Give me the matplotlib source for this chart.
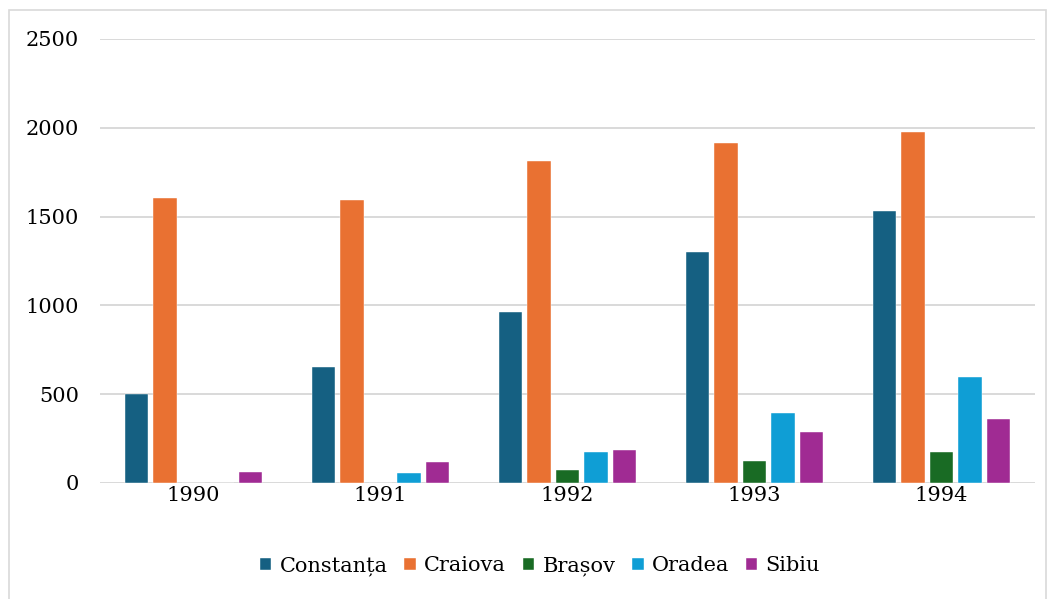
import matplotlib
matplotlib.use("Agg")
import matplotlib.pyplot as plt
import numpy as np
from matplotlib.patches import Rectangle

years = ["1990", "1991", "1992", "1993", "1994"]
series_names = ["Constanța", "Craiova", "Brașov", "Oradea", "Sibiu"]
constanta = [500, 655, 965, 1302, 1529]
craiova = [1603, 1595, 1811, 1913, 1977]
brasov = [0, 0, 75, 126, 177]
oradea = [0, 56, 173, 395, 596]
sibiu = [62, 118, 184, 288, 361]
colors = ["#156082", "#E97132", "#196B24", "#0F9ED5", "#A02B93"]
yticks = [0, 500, 1000, 1500, 2000, 2500]

plt.rcParams['font.family'] = ['DejaVu Serif']

fig = plt.figure(figsize=(10.54, 5.99), dpi=100)
ax = fig.add_axes([100/1054, 1-483/599, 935/1054, (483-39)/599])

data = [constanta, craiova, brasov, oradea, sibiu]
x = np.arange(len(years))
step = 0.153
width = 0.125
for i, (name, vals, c) in enumerate(zip(series_names, data, colors)):
    ax.bar(x + (i - 2) * step, vals, width=width, color=c, label=name,
           edgecolor="white", linewidth=0.3, zorder=3)

ax.set_xlim(-0.5, len(years) - 0.5)
ax.set_ylim(0, 2500)
ax.set_yticks(yticks)
ax.set_yticklabels([str(v) for v in yticks])
ax.set_xticks(x)
ax.set_xticklabels(years)
ax.tick_params(axis='both', length=0, labelsize=15, colors="#000000")
ax.tick_params(axis='y', pad=15)
ax.tick_params(axis='x', pad=2)
ax.grid(axis='y', color="#d9d9d9", linewidth=1.4, zorder=0)
for s in ax.spines.values():
    s.set_visible(False)

leg = fig.legend(loc='center', bbox_to_anchor=(540/1054, 1-566/599), ncol=5,
                 frameon=False, fontsize=15, handlelength=0.55, handleheight=0.55,
                 handletextpad=0.4, columnspacing=0.8)

fig.patches.append(Rectangle((9/1054, -0.05), 1037/1054, 1.05 - 10/599,
                             transform=fig.transFigure, fill=False,
                             edgecolor="#d9d9d9", linewidth=1.2))

fig.savefig("out.png", dpi=100, facecolor="white")
